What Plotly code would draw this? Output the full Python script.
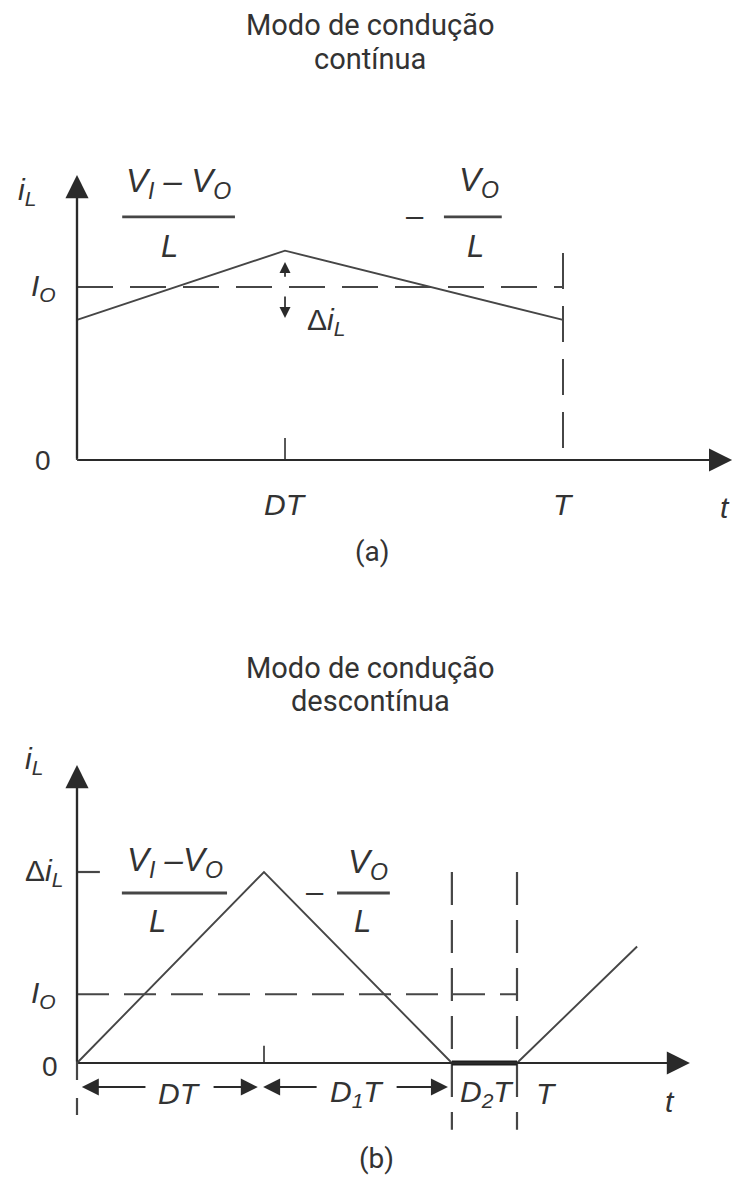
import plotly.graph_objects as go

# ---------------- data ----------------
# (a) continuous conduction: one switching period, T = 1
t_cont = [0.0, 0.428, 1.0]          # 0, DT, T
i_cont = [0.81, 1.21, 0.81]         # valley, peak, valley
io_cont = 1.0                       # average current I_O

# (b) discontinuous conduction
t_disc = [0.0, 0.425, 0.852, 1.0, 1.273]   # 0, DT, (D+D1)T, T, next period
i_disc = [0.0, 1.0, 0.0, 0.0, 0.61]
io_disc = 0.36
di_disc = 1.0                             # peak value Δi_L

# ---------------- geometry of the two panels (pixels) ----------------
W, H = 734, 1194
# origin (px), px per unit time, px per unit current, vertical extent (px)
PA = dict(ox=77, oy=460, sx=486, sy=173, top=0, bottom=600)
PB = dict(ox=77, oy=1063, sx=440, sy=191, top=600, bottom=1194)

INK = "#333333"
LINE = "#464646"
HEAD = "#2a2a2a"
FONT = "Liberation Sans, Arial, sans-serif"
TITLE_FONT = "Roboto, Liberation Sans, sans-serif"

fig = go.Figure()


def axis_cfg(p):
    xr = [-p["ox"] / p["sx"], (W - p["ox"]) / p["sx"]]
    yr = [(p["oy"] - p["bottom"]) / p["sy"], (p["oy"] - p["top"]) / p["sy"]]
    dom = [1 - p["bottom"] / H, 1 - p["top"] / H]
    common = dict(visible=False, showgrid=False, zeroline=False, fixedrange=True)
    return dict(range=xr, domain=[0, 1], **common), dict(range=yr, domain=dom, **common)


xa, ya = axis_cfg(PA)
xb, yb = axis_cfg(PB)
xb["anchor"] = "y2"
yb["anchor"] = "x2"


def line(x, y, ax, width=1.6, dash=None, color=LINE):
    fig.add_trace(go.Scatter(
        x=x, y=y, mode="lines", xaxis=ax[0], yaxis=ax[1], hoverinfo="skip",
        showlegend=False, line=dict(color=color, width=width, dash=dash)))


annotations = []


def arrow(x, y, ax_, ay_, axes, width=2.0, size=1.0, head=2, color=HEAD):
    xr, yr = axes
    annotations.append(dict(
        x=x, y=y, ax=ax_, ay=ay_, xref=xr, yref=yr, axref=xr, ayref=yr,
        text="", showarrow=True, arrowhead=head, arrowsize=size,
        arrowwidth=width, arrowcolor=color, standoff=0, startstandoff=0))


def label(x, y, text, axes, size=30, xanchor="center", yanchor="middle", font=FONT):
    xr, yr = axes
    annotations.append(dict(
        x=x, y=y, xref=xr, yref=yr, text=text, showarrow=False,
        xanchor=xanchor, yanchor=yanchor,
        font=dict(family=font, size=size, color=INK)))


shapes = []


def bar(x0, x1, y, axes, width=2.8):
    xr, yr = axes
    shapes.append(dict(type="line", xref=xr, yref=yr, x0=x0, x1=x1, y0=y, y1=y,
                       line=dict(color=LINE, width=width)))


A = ("x", "y")
B = ("x2", "y2")

# ================= (a) continuous conduction =================
# axes with arrow heads
line([0, 1.30], [0, 0], A, width=2.2)
line([0, 0], [0, 1.60], A, width=2.2)
arrow(1.348, 0, 0, 0, A, width=2.2, size=2.1)
arrow(0, 1.647, 0, 0, A, width=2.2, size=2.1)
# I_O dashed level
line([0, 1], [io_cont, io_cont], A, width=2.0, dash="36px,17px")
# T marker (dashed vertical)
line([1, 1], [1.197, 0.069], A, width=2.0, dash="36px,17px")
# DT tick
line([t_cont[1], t_cont[1]], [0, 0.127], A, width=1.8)
# inductor current
line(t_cont, i_cont, A, width=1.9)
# ripple arrows
arrow(t_cont[1], 1.145, t_cont[1], 1.05, A, width=1.7, size=1.3)
arrow(t_cont[1], 0.821, t_cont[1], 0.954, A, width=1.7, size=1.3)

label(-0.103, 1.55, "<i>i<sub>L</sub></i>", A)
label(-0.068, io_cont, "<i>I<sub>O</sub></i>", A)
label(-0.07, 0.0, "0", A, size=28)
label(0.512, 0.80, "Δ<i>i<sub>L</sub></i>", A)
label(t_cont[1], -0.26, "<i>DT</i>", A)
label(1.0, -0.26, "<i>T</i>", A)
label(1.333, -0.277, "<i>t</i>", A)
label(0.607, -0.53, "(a)", A, size=28, font=TITLE_FONT)
# slope expressions
label(0.209, 1.60, "<i>V<sub>I</sub> – V<sub>O</sub></i>", A, size=33)
bar(0.093, 0.325, 1.405, A)
label(0.19, 1.235, "<i>L</i>", A, size=31)
label(0.695, 1.415, "–", A, size=31)
label(0.827, 1.607, "<i>V<sub>O</sub></i>", A, size=33)
bar(0.755, 0.874, 1.405, A)
label(0.819, 1.235, "<i>L</i>", A, size=31)

# ================= (b) discontinuous conduction =================
line([0, 1.35], [0, 0], B, width=2.2)
line([0, 0], [0, 1.52], B, width=2.2)
arrow(1.393, 0, 0, 0, B, width=2.2, size=2.1)
arrow(0, 1.56, 0, 0, B, width=2.2, size=2.1)
line([0, 0], [0, -0.29], B, width=2.2, dash="17px,18px")
# I_O dashed level
line([0, 1], [io_disc, io_disc], B, width=2.0, dash="32px,15px")
# boundaries of the idle interval
line([t_disc[2], t_disc[2]], [di_disc, -0.35], B, width=2.2, dash="33px,15px")
line([t_disc[3], t_disc[3]], [di_disc, -0.35], B, width=2.2, dash="33px,15px")
# ticks
line([t_disc[1], t_disc[1]], [0, 0.09], B, width=1.8)
line([0, 0.052], [di_disc, di_disc], B, width=2.2)
# inductor current and the zero-current interval
line(t_disc, i_disc, B, width=1.9)
line([t_disc[2], t_disc[3]], [0, 0], B, width=5, color="#1e1e1e")

# interval dimension arrows
yd = -0.126
arrow(0.011, yd, 0.159, yd, B, width=2.0, size=1.7)
arrow(0.411, yd, 0.307, yd, B, width=2.0, size=1.7)
arrow(0.423, yd, 0.548, yd, B, width=2.0, size=1.7)
arrow(0.843, yd, 0.723, yd, B, width=2.0, size=1.7)

label(-0.098, 1.586, "<i>i<sub>L</sub></i>", B)
label(-0.074, di_disc, "Δ<i>i<sub>L</sub></i>", B, xanchor="center")
label(-0.077, io_disc, "<i>I<sub>O</sub></i>", B)
label(-0.062, -0.016, "0", B, size=28)
label(0.234, -0.16, "<i>DT</i>", B)
label(0.636, -0.16, "<i>D<sub>1</sub>T</i>", B)
label(0.932, -0.16, "<i>D<sub>2</sub>T</i>", B)
label(1.068, -0.16, "<i>T</i>", B)
label(1.348, -0.2, "<i>t</i>", B)
label(0.68, -0.50, "(b)", B, size=28, font=TITLE_FONT)
# slope expressions
label(0.223, 1.05, "<i>V<sub>I</sub> –V<sub>O</sub></i>", B, size=33)
bar(0.102, 0.341, 0.89, B)
label(0.184, 0.74, "<i>L</i>", B, size=31)
label(0.541, 0.90, "–", B, size=31)
label(0.661, 1.04, "<i>V<sub>O</sub></i>", B, size=33)
bar(0.591, 0.711, 0.89, B)
label(0.648, 0.74, "<i>L</i>", B, size=31)

# panel titles
for ytxt, txt in [(25, "Modo de condução"), (59, "contínua"),
                  (668, "Modo de condução"), (701, "descontínua")]:
    annotations.append(dict(
        x=370 / W, y=1 - ytxt / H, xref="paper", yref="paper", text=txt,
        showarrow=False, xanchor="center", yanchor="middle",
        font=dict(family=TITLE_FONT, size=29, color=INK)))

fig.update_layout(
    width=W, height=H, margin=dict(l=0, r=0, t=0, b=0),
    paper_bgcolor="white", plot_bgcolor="rgba(0,0,0,0)",
    xaxis=xa, yaxis=ya, xaxis2=xb, yaxis2=yb,
    annotations=annotations, shapes=shapes, showlegend=False)

fig.write_html("out.html")
